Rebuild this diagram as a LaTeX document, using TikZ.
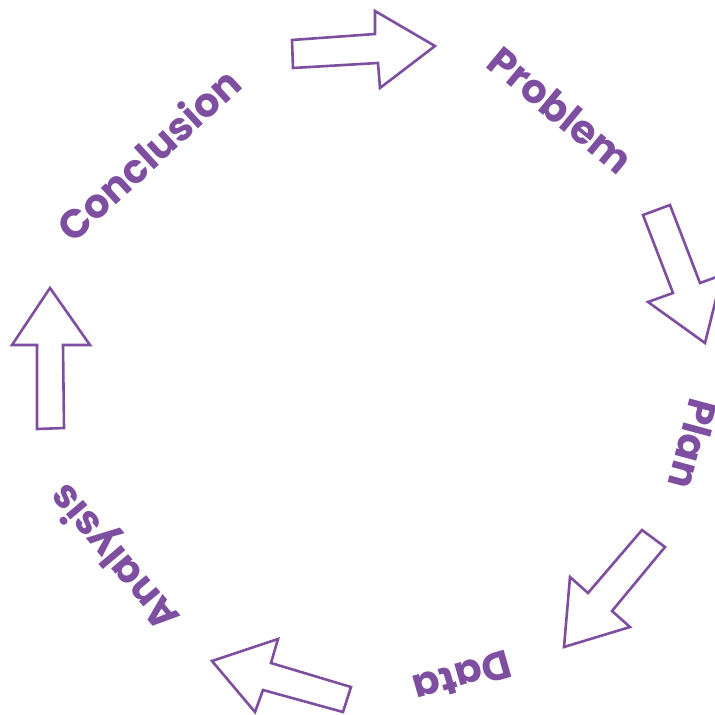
\documentclass[tikz,border=0pt]{standalone}
\usepackage{fontspec}
\setmainfont{Poppins}
\definecolor{cyc}{RGB}{126,78,160}
\begin{document}
\begin{tikzpicture}[x=1pt,y=-1pt,
  lbl/.style={text=cyc,font=\fontsize{40}{44}\selectfont\bfseries,inner sep=0pt},
  blk/.style={draw=cyc,line width=2.6pt,line join=miter,fill=white}]
\useasboundingbox (0,0) rectangle (715,715);
\clip (0,0) rectangle (715,715);
% labels
\node[lbl,rotate=-39.5] (problem) at (561,110) {Problem};
\node[lbl,rotate=-105] (plan) at (693,444) {Plan};
\node[lbl,rotate=196] (data) at (462,677) {Data};
\node[lbl,rotate=130] (analysis) at (116,556) {Analysis};
\node[lbl,rotate=42.6] (conclusion) at (148,154) {Conclusion};
% block arrows
\draw[blk] (292,40) -- (375,34) -- (375,11) -- (435,46) -- (380,88) -- (378,63) -- (293,68) -- cycle;
\draw[blk] (643,215) -- (670,205) -- (700,283) -- (722,275) -- (705,343) -- (648,302) -- (673,293) -- cycle;
\draw[blk] (642,530) -- (665,547) -- (612,611) -- (630,627) -- (564,647) -- (570,577) -- (588,593) -- cycle;
\draw[blk] (351,687) -- (343,712) -- (263,690) -- (255,712) -- (212,661) -- (278,639) -- (271,663) -- cycle;
\draw[blk] (37,429) -- (64,428) -- (63,345) -- (90,345) -- (50,288) -- (12,345) -- (37,345) -- cycle;
\end{tikzpicture}
\end{document}
